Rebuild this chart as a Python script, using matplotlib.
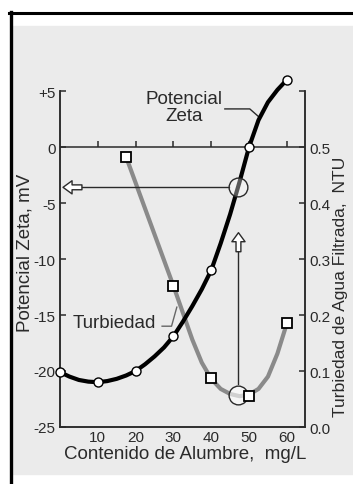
import numpy as np
import matplotlib.pyplot as plt
from matplotlib.patches import Rectangle
from matplotlib.lines import Line2D

plt.rcParams['font.family'] = ['Liberation Sans', 'DejaVu Sans']

# measured points
alum = [0, 10, 20, 30, 40, 50, 60]
zeta = [-20.1, -21.0, -20.0, -16.9, -11.0, 0.0, 6.0]

turb_alum = [17.5, 30, 40, 50, 60]
turb = [0.482, 0.251, 0.087, 0.055, 0.185]

# smooth curves
zeta_curve_x = [0, 2.5, 5, 7.5, 10, 12.5, 15, 17.5, 20, 22.5, 25, 27.5, 30,
                32.5, 35, 37.5, 40, 42.5, 45, 47.5, 50, 52.5, 55, 57.5, 60]
zeta_curve = [-20.1, -20.5, -20.8, -20.95, -21.0, -20.9, -20.7, -20.4, -20.0,
              -19.4, -18.7, -17.9, -16.9, -15.6, -14.2, -12.7, -11.0, -8.6,
              -6.0, -3.1, 0.0, 2.4, 4.0, 5.1, 6.0]

turb_curve_x = [17.5, 20, 22.5, 25, 27.5, 30, 32.5, 35, 37.5, 40, 42.5, 45,
                47.5, 50, 52.5, 55, 57.5, 60]
turb_curve = [0.482, 0.436, 0.390, 0.344, 0.298, 0.252, 0.204, 0.156, 0.115,
              0.086, 0.068, 0.059, 0.055, 0.058, 0.068, 0.090, 0.131, 0.185]

zeta_ticks = [-25, -20, -15, -10, -5, 0, 5]
zeta_labels = ['-25', '-20', '-15', '-10', '-5', '0', '+5']
turb_ticks = [0.0, 0.1, 0.2, 0.3, 0.4, 0.5, 0.6]
turb_labels = ['0.0', '0.1', '0.2', '0.3', '0.4', '0.5', '']
alum_ticks = [10, 20, 30, 40, 50, 60]

# optimum dose markers
opt_dose = 47.2
opt_zeta = -3.6
opt_turb = 0.057

dark = '#2a2a2a'
fig = plt.figure(figsize=(3.53, 4.85), dpi=100)

# panel background and frame
fig.patches.append(Rectangle((13 / 353, 10 / 485), 1, 448 / 485,
                             transform=fig.transFigure, color='#ebebeb', zorder=0))
fig.lines.append(Line2D([9 / 353, 1], [1 - 14 / 485, 1 - 14 / 485],
                        transform=fig.transFigure, color='black', lw=2.2))
fig.lines.append(Line2D([10.5 / 353, 10.5 / 353], [0, 1 - 12.5 / 485],
                        transform=fig.transFigure, color='black', lw=2.4))

ax = fig.add_axes([60 / 353, 57 / 485, 245 / 353, 336 / 485])
ax2 = ax.twinx()
ax.set_zorder(2)
ax2.set_zorder(1)
ax.patch.set_visible(False)
ax2.patch.set_visible(False)

ax.set_xlim(0, 64.8)
ax.set_ylim(-25, 5)
ax2.set_ylim(0, 0.6)

for a in (ax, ax2):
    a.spines['top'].set_visible(False)
    for s in ('left', 'right', 'bottom'):
        a.spines[s].set_color(dark)
        a.spines[s].set_linewidth(1.1)

ax.set_yticks(zeta_ticks)
ax.set_yticklabels(zeta_labels)
ax.set_xticks(alum_ticks)
ax.tick_params(axis='y', direction='in', length=4, width=1.1, color=dark,
               labelsize=11, labelcolor=dark, pad=3)
ax.tick_params(axis='x', length=0, labelsize=11, labelcolor=dark, pad=2)
ax2.set_yticks(turb_ticks)
ax2.set_yticklabels(turb_labels)
ax2.tick_params(axis='y', direction='in', length=4, width=1.1, color=dark,
                labelsize=11, labelcolor=dark, pad=3)

# zero line with upward ticks
ax.axhline(0, color=dark, lw=1.1, zorder=1)
ax.plot(alum_ticks, [0] * len(alum_ticks), linestyle='none', marker=2,
        markersize=4, mew=1.1, color=dark, zorder=1)

# curves
ax2.plot(turb_curve_x, turb_curve, color='#8a8a8a', lw=3, solid_capstyle='butt')
ax.plot(zeta_curve_x, zeta_curve, color='black', lw=3, zorder=3, clip_on=False)
ax.plot(alum, zeta, linestyle='none', marker='o', markersize=6.5,
        mfc='white', mec='black', mew=1, zorder=4, clip_on=False)
ax2.plot(turb_alum, turb, linestyle='none', marker='s', markersize=6.5,
         mfc='white', mec='black', mew=1.3, zorder=4)

# optimum dose circles and arrows
ax.plot([opt_dose], [opt_zeta], marker='o', markersize=13.5,
        mfc=(1, 1, 1, 0.35), mec=dark, mew=1, zorder=5)
ax2.plot([opt_dose], [opt_turb], marker='o', markersize=13.5,
         mfc=(1, 1, 1, 0.6), mec=dark, mew=1, zorder=3)

ax.plot([5.8, opt_dose - 2.5], [opt_zeta, opt_zeta], color=dark, lw=1, zorder=3)
arrow_kw = dict(arrowstyle='simple,head_length=0.65,head_width=0.95,tail_width=0.35',
                fc='white', ec=dark, lw=1, shrinkA=0, shrinkB=0, mutation_scale=10)
ax.annotate('', xy=(0.8, opt_zeta), xytext=(5.8, opt_zeta), arrowprops=arrow_kw)
ax2.plot([opt_dose, opt_dose], [0.077, 0.313], color=dark, lw=1)
ax2.annotate('', xy=(opt_dose, 0.347), xytext=(opt_dose, 0.313), arrowprops=arrow_kw)

# curve labels
ax.text(32.9, 3.6, 'Potencial\nZeta', ha='center', va='center', fontsize=13.5,
        color=dark, linespacing=1.0, multialignment='center')
ax.plot([43.6, 50.2, 52.9], [3.4, 3.4, 2.6], color=dark, lw=1)
ax.text(3.4, -15.7, 'Turbiedad', ha='left', va='center', fontsize=13.5, color=dark)
ax.plot([27.0, 29.5, 30.9], [-16.0, -16.0, -14.3], color='#666666', lw=1)

ax.set_xlabel('Contenido de Alumbre,  mg/L', fontsize=13.5, color=dark)
ax.xaxis.set_label_coords(0.51, -0.055)
ax.set_ylabel('Potencial Zeta, mV', fontsize=13.5, color=dark)
ax.yaxis.set_label_coords(-0.108, 0.52)
ax2.set_ylabel('Turbiedad de Agua Filtrada,  NTU', fontsize=12.6, color=dark,
               rotation=90)
ax2.yaxis.set_label_coords(1.114, 0.42)

fig.savefig('out.png', dpi=100)
